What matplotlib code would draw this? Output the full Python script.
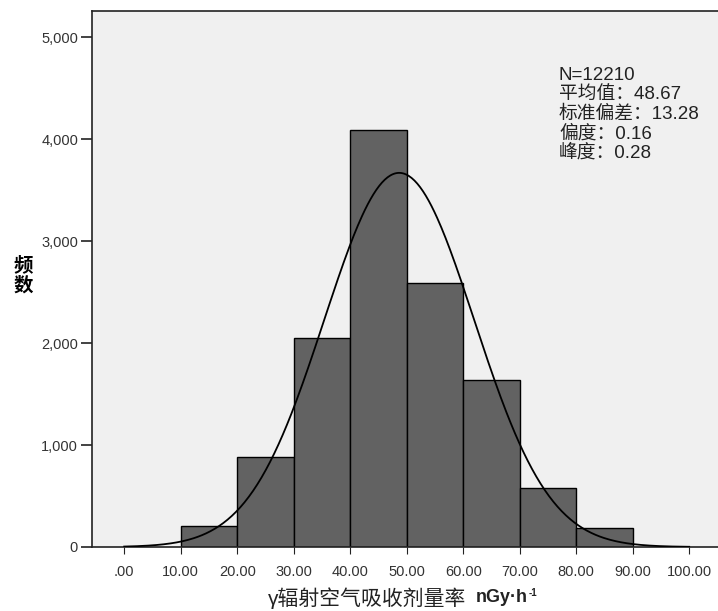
import numpy as np
import matplotlib.pyplot as plt

plt.rcParams['font.family'] = ['Liberation Sans', 'Noto Sans CJK SC', 'DejaVu Sans']

# histogram bins (lower edges) and counts
bin_left = [10, 20, 30, 40, 50, 60, 70, 80]
counts = [209, 885, 2046, 4091, 2585, 1637, 575, 183]
bin_width = 10

n_total = 12210
mean = 48.67
sd = 13.28
skew = 0.16
kurt = 0.28

xticks = [0, 10, 20, 30, 40, 50, 60, 70, 80, 90, 100]
yticks = [0, 1000, 2000, 3000, 4000, 5000]

fig = plt.figure(figsize=(7.18, 6.11), dpi=100)
ax = fig.add_axes([92/718, 1 - 547/611, 1 - 92/718, (547 - 11)/611])
ax.set_facecolor('#f0f0f0')

ax.bar(bin_left, counts, width=bin_width, align='edge',
       color='#626262', edgecolor='black', linewidth=1.0, zorder=2)

# fitted normal curve
xs = np.linspace(0, 100, 400)
ys = n_total * bin_width / (sd * np.sqrt(2 * np.pi)) * np.exp(-0.5 * ((xs - mean) / sd) ** 2)
ax.plot(xs, ys, color='black', linewidth=1.3, zorder=3)

ax.set_xlim(-5.7, 105.1)
ax.set_ylim(0, 5255)
ax.set_xticks(xticks)
ax.set_xticklabels(['.00' if v == 0 else f'{v:.2f}' for v in xticks])
ax.set_yticks(yticks)
ax.set_yticklabels([f'{v:,}' for v in yticks])
ax.tick_params(axis='both', labelsize=10.5, labelcolor='#333333', color='#222222')
ax.tick_params(axis='y', length=8, width=1.2, pad=2)
ax.tick_params(axis='x', length=5, width=0.8, pad=8)

ax.spines['right'].set_visible(False)
for s in ['left', 'bottom', 'top']:
    ax.spines[s].set_linewidth(1.2)
    ax.spines[s].set_color('#222222')

stats = [f'N={n_total}', f'平均值：{mean:.2f}', f'标准偏差：{sd:.2f}',
         f'偏度：{skew:.2f}', f'峰度：{kurt:.2f}']
for i, line in enumerate(stats):
    fig.text(559/718, 1 - (75 + 19.5 * i)/611, line, fontsize=13.5,
             va='center', ha='left', color='#222222')

fig.text(23/718, 1 - 276/611, '频\n数', fontsize=14, fontweight='bold',
         ha='center', va='center', linespacing=1.1)
fig.text(466/718, 1 - 598/611, 'γ辐射空气吸收剂量率', fontsize=15,
         ha='right', va='center', color='#222222')
unit = fig.text(476/718, 1 - 598/611, 'nGy·h', fontsize=13,
                fontweight='bold', ha='left', va='center', color='#222222')
ax.annotate('-1', xy=(1, 1), xycoords=unit, xytext=(0.5, 1), textcoords='offset points',
            fontsize=7, fontweight='bold', ha='left', va='top', color='#222222',
            annotation_clip=False)

fig.savefig('out.png', dpi=100, facecolor='white')
